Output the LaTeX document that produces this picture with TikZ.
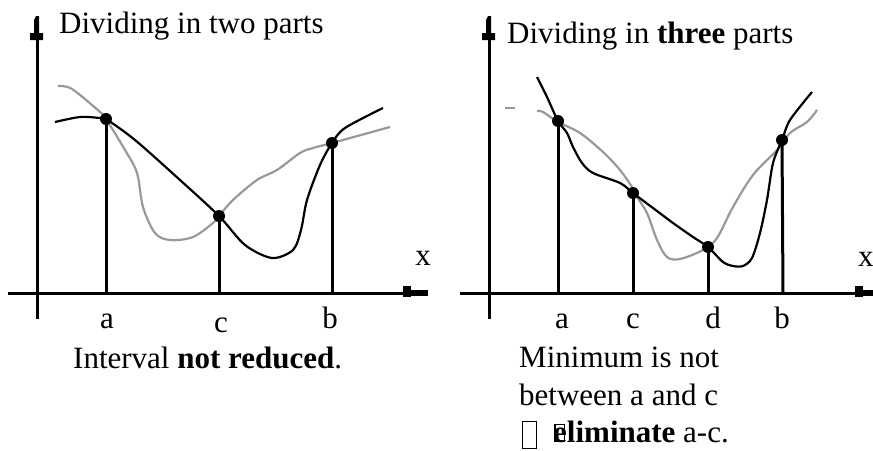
\documentclass[tikz,border=0pt]{standalone}
\usepackage{fontspec}
\setmainfont{Liberation Serif}
\begin{document}
\begin{tikzpicture}[x=1pt,y=-1pt,
  txt/.style={inner sep=0pt,font=\fontsize{31}{37}\selectfont},
  axis/.style={line width=3pt},
  drop/.style={line width=3pt},
  blk/.style={line width=2.2pt,black},
  gry/.style={line width=2.2pt,black!40},
  dot/.style={circle,fill=black,inner sep=0pt,minimum size=12pt},
  tip/.style={fill=black}]
\useasboundingbox (0,0) rectangle (873,450);
% ---------- left panel ----------
\coordinate (LyT) at (37,30);
\coordinate (LyB) at (37,319);
\coordinate (LxL) at (8,293);
\coordinate (LxR) at (420,293);
\draw[axis] (LyB) -- (LyT);
\draw[axis] (LxL) -- (LxR);
\fill[tip] (36,16) -- (39,16) -- (39,33) -- (43,33) -- (43,40) -- (30,40) -- (30,33) -- (34,33) -- (34,20) -- cycle;
\fill[tip] (403,286) rectangle (411,297);
\fill[tip] (411,289.5) rectangle (428,296);
\draw[gry] plot[smooth,tension=0.55] coordinates {(58,86) (72,89) (100,112) (106,119) (125,150) (137,173) (143,207) (155,233) (170,240) (193,237) (213,223) (219,216) (233,200) (257,180) (277,170) (300,153) (313,148) (332,143) (390,127)};
\draw[blk] plot[smooth,tension=0.5] coordinates {(55,122) (80,117) (100,118) (106,119) (135,140) (180,180) (219,216) (245,245) (272,258) (293,250) (301,230) (307,200) (320,165) (332,143) (345,128) (383,108)};
\node[dot] (La) at (106,119) {};
\node[dot] (Lc) at (219,216) {};
\node[dot] (Lb) at (332,143) {};
\coordinate (Lax) at (106,293);
\coordinate (Lcx) at (219,293);
\coordinate (Lbx) at (332,293);
\draw[drop] (La.center) -- (Lax);
\draw[drop] (Lc.center) -- (Lcx);
\draw[drop] (Lb.center) -- (Lbx);
\node[txt,anchor=base] (Lla) at (107,328) {a};
\node[txt,anchor=base] (Llc) at (221,332) {c};
\node[txt,anchor=base] (Llb) at (330,328) {b};
\node[txt,anchor=base] (Llx) at (423,265) {x};
\node[txt,anchor=base west] (Ltitle) at (59,33) {Dividing in two parts};
\node[txt,anchor=base west] (Lnote) at (73,368) {Interval \textbf{not reduced}.};
% ---------- right panel ----------
\coordinate (RyT) at (489,30);
\coordinate (RyB) at (489,319);
\coordinate (RxL) at (460,293);
\coordinate (RxR) at (873,293);
\draw[axis] (RyB) -- (RyT);
\draw[axis] (RxL) -- (RxR);
\fill[tip] (488,16) -- (491,16) -- (491,33) -- (495,33) -- (495,40) -- (482,40) -- (482,33) -- (486,33) -- (486,20) -- cycle;
\fill[tip] (855,286) rectangle (863,297);
\fill[tip] (863,289.5) rectangle (880,296);
\draw[gry] (505,108) -- (515,108);
\draw[gry] plot[smooth,tension=0.55] coordinates {(537,111) (543,112) (558,122) (580,133) (603,152) (620,170) (632,187) (637,197) (647,213) (657,240) (667,257) (680,259) (703,250) (717,238) (733,207) (753,175) (777,150) (790,133) (807,122) (817,110)};
\draw[blk] plot[smooth,tension=0.5] coordinates {(537,77) (547,97) (558,121) (567,133) (573,147) (582,163) (593,173) (620,183) (633,193) (653,208) (673,223) (693,237) (708,247) (723,262) (733,266) (743,266) (752,258) (760,233) (767,200) (773,163) (782,140) (790,120) (812,92)};
\node[dot] (Ra) at (558,121) {};
\node[dot] (Rc) at (633,193) {};
\node[dot] (Rd) at (708,247) {};
\node[dot] (Rb) at (782,140) {};
\coordinate (Rax) at (558,293);
\coordinate (Rcx) at (633,293);
\coordinate (Rdx) at (708,293);
\coordinate (Rbx) at (783,293);
\draw[drop] (Ra.center) -- (Rax);
\draw[drop] (Rc.center) -- (Rcx);
\draw[drop] (Rd.center) -- (Rdx);
\draw[drop] (Rb.center) -- (Rbx);
\node[txt,anchor=base] (Rla) at (562,328) {a};
\node[txt,anchor=base] (Rlc) at (633,328) {c};
\node[txt,anchor=base] (Rld) at (713,328) {d};
\node[txt,anchor=base] (Rlb) at (782,328) {b};
\node[txt,anchor=base west] (Rlx) at (858,266) {x};
\node[txt,anchor=base west] (Rtitle) at (507,43) {Dividing in \textbf{three} parts};
\node[txt,anchor=base west] (Rn1) at (519,367) {Minimum is not};
\node[txt,anchor=base west] (Rn2) at (519,405) {between a and c};
\node[txt,anchor=base west] (Rn3) at (522,442) {\fboxsep=0pt\fboxrule=1pt\raisebox{-6pt}{\fbox{\rule{0pt}{26pt}\hspace{13pt}}}\hspace{16pt}\rlap{\hspace{1pt}\raisebox{2pt}{\fboxrule=1.5pt\fbox{\rule{0pt}{15pt}\hspace{8pt}}}}\textbf{eliminate} a-c.};
\end{tikzpicture}
\end{document}
